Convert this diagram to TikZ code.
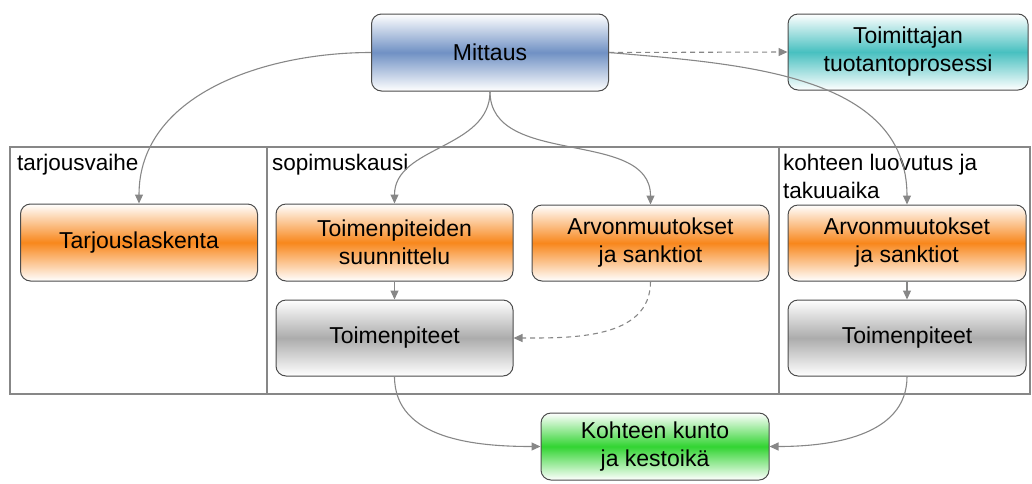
\documentclass[tikz,border=0pt]{standalone}
\usepackage{fontspec}
\setmainfont{Liberation Sans}
\usepackage{xcolor}
\usetikzlibrary{arrows.meta,positioning}

\definecolor{boxblue}{RGB}{112,145,196}
\definecolor{boxorange}{RGB}{248,135,28}
\definecolor{boxgray}{RGB}{172,172,172}
\definecolor{boxteal}{RGB}{72,192,192}
\definecolor{boxgreen}{RGB}{50,212,50}
\definecolor{linegray}{RGB}{135,135,135}

\begin{document}
\begin{tikzpicture}[x=1pt, y=1pt,
    box/.style={draw=black!70, line width=1pt, rounded corners=10pt, align=center,
      inner sep=0pt, minimum width=237pt, minimum height=77pt,
      font=\fontsize{23}{28}\selectfont, top color=white, bottom color=white},
    bluebox/.style={box, middle color=boxblue},
    orangebox/.style={box, middle color=boxorange},
    graybox/.style={box, middle color=boxgray},
    tealbox/.style={box, middle color=boxteal},
    greenbox/.style={box, middle color=boxgreen},
    phase/.style={anchor=north west, inner sep=0pt, align=left, font=\fontsize{22.5}{28}\selectfont},
    link/.style={draw=linegray, line width=1.1pt, -{Triangle[length=9pt,width=8pt]}}
  ]
           \useasboundingbox (0,0) rectangle (1032,-483);
           % phases
           \draw[linegray, line width=1.2pt] (10,-147) rectangle (1030,-394);
           \draw[linegray, line width=1.2pt] (267,-147) -- (267,-394);
           \draw[linegray, line width=1.2pt] (779,-147) -- (779,-394);
           \node[phase] (ph_0) at (17,-154) {tarjousvaihe};
           \node[phase] (ph_1) at (272,-154) {sopimuskausi};
           \node[phase] (ph_2) at (783,-154) {kohteen luovutus ja\\takuuaika};

           % boxes
           \node[bluebox] (mit)   at (490,-52.5)  {Mittaus};
           \node[tealbox, minimum width=240pt, minimum height=76pt] (toim) at (908,-52) {Toimittajan\\tuotantoprosessi};
           \node[orangebox] (tarj)  at (139,-242.5) {Tarjouslaskenta};
           \node[orangebox] (suun)  at (394.5,-242.5) {Toimenpiteiden\\suunnittelu};
           \node[graybox, minimum height=76pt] (tp_1) at (394.5,-338) {Toimenpiteet};
           \node[orangebox, minimum height=76pt] (arv_1) at (650.5,-243) {Arvonmuutokset\\ja sanktiot};
           \node[orangebox, minimum width=238pt, minimum height=76pt] (arv_2) at (907,-243) {Arvonmuutokset\\ja sanktiot};
           \node[graybox, minimum width=238pt, minimum height=76pt] (tp_2) at (907,-338) {Toimenpiteet};
           \node[greenbox, minimum width=228pt, minimum height=67pt] (kunto) at (655,-446.5) {Kohteen kunto\\ja kestoikä};

           % connectors
           \draw[link] (mit.west) to[out=180, in=90] (tarj.north);
           \draw[link] (mit.south) to[out=-90, in=90] (suun.north);
           \draw[link] (mit.south) to[out=-90, in=90] (arv_1.north);
           \draw[link] (mit.east) to[out=-5, in=90] (arv_2.north);
           \draw[link, dash pattern=on 5pt off 4pt] (mit.east) -- (toim.west);
           \draw[link] (suun) -- (tp_1);
           \draw[link, dash pattern=on 5pt off 4pt] (arv_1.south) to[out=-90, in=0] (tp_1.east);
           \draw[link] (arv_2) -- (tp_2);
           \draw[link] (tp_1.south) to[out=-90, in=180] (kunto.west);
           \draw[link] (tp_2.south) to[out=-90, in=0] (kunto.east);
        \end{tikzpicture}
\end{document}
